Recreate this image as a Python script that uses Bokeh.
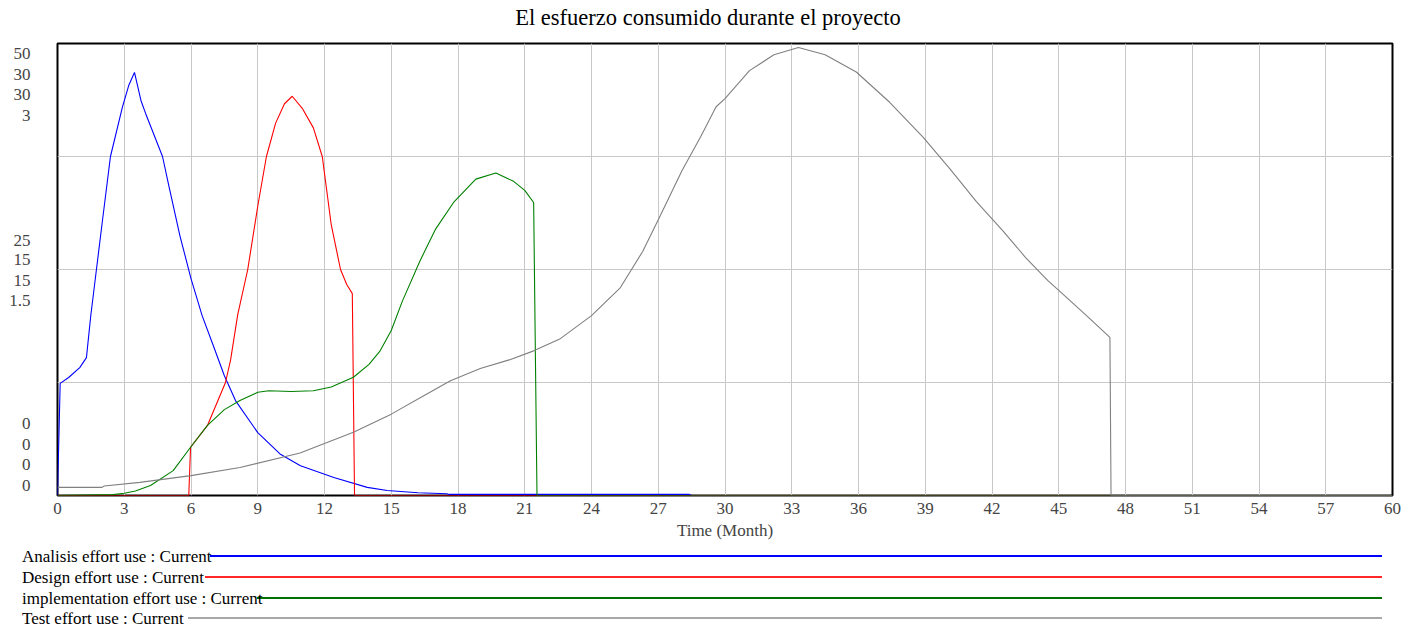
import numpy as np
from bokeh.plotting import figure
from bokeh.models import Range1d, FixedTicker, ColumnDataSource, Div
from bokeh.layouts import column
from bokeh.embed import file_html
from bokeh.resources import INLINE

# ---------------- data ----------------
title_text = "El esfuerzo consumido durante el proyecto"
x_label = "Time (Month)"
x_ticks = list(range(0, 61, 3))

series_names = ["Analisis effort use : Current", "Design effort use : Current",
                "implementation effort use : Current", "Test effort use : Current"]
series_colors = ["#0000FF", "#FF0000", "#008000", "#808080"]
legend_colors = ["rgb(0,0,255)", "rgb(255,40,40)", "rgb(0,112,0)", "rgb(168,168,168)"]
series_max = [50, 30, 30, 3]

axis_top = ["50", "30", "30", "3"]
axis_mid = ["25", "15", "15", "1.5"]
axis_bot = ["0", "0", "0", "0"]

analisis_t = [0, 0.12, 0.5, 1.0, 1.3, 1.5, 1.75, 2.0, 2.38, 2.92, 3.2, 3.46, 3.75, 4.0,
              4.72, 5.0, 5.5, 6.0, 6.5, 7.0, 7.5, 8.0, 9.0, 10.0, 10.92, 12.42, 13.92,
              14.82, 16.2, 17.5, 17.6, 28.4, 28.5, 60]
analisis_v = [0, 12.4, 13.05, 14.15, 15.25, 20.0, 25.0, 30.0, 37.5, 43.0, 45.35, 46.8, 43.7, 42.0,
              37.5, 34.3, 28.75, 24.0, 19.9, 16.6, 13.25, 10.5, 6.95, 4.6, 3.3, 2.0, 0.9,
              0.55, 0.3, 0.2, 0.12, 0.12, 0, 0]

design_t = [0, 5.9, 5.98, 6.74, 7.55, 7.78, 8.1, 8.55, 9.0, 9.39, 9.8, 10.2, 10.55, 11.0,
            11.5, 11.9, 12.3, 12.72, 13.0, 13.25, 13.35, 60]
design_v = [0, 0, 3.2, 4.65, 7.5, 9.0, 12.0, 15.0, 19.2, 22.5, 24.7, 26.0, 26.5, 25.7,
            24.4, 22.5, 18.0, 15.0, 14.0, 13.4, 0, 0]

implementation_t = [0, 2.5, 3.0, 3.5, 4.18, 5.2, 5.98, 6.74, 7.5, 8.2, 9.0, 9.5, 10.5, 11.5,
                    12.3, 13.3, 14.0, 14.5, 15.0, 15.5, 16.3, 17.0, 17.8, 18.8, 19.7, 20.5,
                    21.0, 21.4, 21.55, 60]
implementation_v = [0, 0.06, 0.15, 0.3, 0.66, 1.65, 3.2, 4.65, 5.7, 6.3, 6.85, 6.95, 6.9, 6.95,
                    7.2, 7.85, 8.7, 9.6, 10.95, 12.9, 15.6, 17.7, 19.45, 21.0, 21.4, 20.85,
                    20.25, 19.45, 0, 0]

test_t = [0, 2.0, 2.1, 3.7, 6.0, 8.2, 10.9, 13.3, 15.0, 16.5, 17.66, 19.0, 20.3, 21.4, 22.6,
          24.0, 25.3, 26.3, 27.1, 28.07, 28.9, 29.6, 30.0, 31.1, 32.2, 33.3, 34.5, 35.9,
          37.4, 38.9, 40.1, 41.3, 42.5, 43.5, 44.5, 45.0, 46.2, 47.3, 47.35, 60]
test_v = [0.054, 0.054, 0.063, 0.087, 0.132, 0.186, 0.282, 0.42, 0.54, 0.666, 0.762, 0.843,
          0.90, 0.96, 1.041, 1.194, 1.38, 1.62, 1.86, 2.157, 2.379, 2.58, 2.634, 2.82, 2.925,
          2.973, 2.925, 2.811, 2.61, 2.379, 2.169, 1.95, 1.755, 1.581, 1.428, 1.362, 1.2,
          1.05, 0, 0]

series_t = [analisis_t, design_t, implementation_t, test_t]
series_v = [analisis_v, design_v, implementation_v, test_v]

# ---------------- layout constants ----------------
FONT = "Liberation Serif"
W = 1416
H_TOTAL = 626
H_TITLE = 30
H1 = 513
H2 = H_TOTAL - H_TITLE - H1
B_LEFT, B_RIGHT = 57, 24

# ---------------- title strip ----------------
title_div = Div(
    text=(f'<div style="position:relative;width:{W}px;height:{H_TITLE}px;">'
          f'<div style="position:absolute;left:0;top:5px;width:{W}px;height:26px;'
          f'line-height:26px;text-align:center;white-space:nowrap;font-family:\'{FONT}\';'
          f'font-size:22.5px;color:black;">{title_text}</div></div>'),
    width=W, height=H_TITLE, margin=(0, 0, 0, 0))

# ---------------- main plot ----------------
p = figure(width=W, height=H1, output_backend="svg", toolbar_location=None,
           x_range=Range1d(0, 60), y_range=Range1d(0, 1),
           min_border_left=B_LEFT, min_border_right=B_RIGHT, min_border_top=13,
           min_border_bottom=48)

p.outline_line_color = "black"
p.outline_line_width = 2
p.background_fill_color = "white"
p.border_fill_color = "white"

p.xaxis.ticker = FixedTicker(ticks=x_ticks)
p.xaxis.axis_label = x_label
p.xaxis.axis_label_text_font = FONT
p.xaxis.axis_label_text_font_size = "17px"
p.xaxis.axis_label_text_font_style = "normal"
p.xaxis.axis_label_standoff = 4
p.xaxis.major_label_text_font = FONT
p.xaxis.major_label_text_font_size = "17px"
p.xaxis.major_label_standoff = 1
p.xaxis.major_tick_line_color = None
p.xaxis.minor_tick_line_color = None
p.xaxis.axis_line_color = None

# stacked scale labels on the left: one label per variable, stacked at three levels
label_pos = [[0.978, 0.931, 0.887, 0.841],
             [0.564, 0.522, 0.476, 0.431],
             [0.159, 0.113, 0.069, 0.022]]
label_txt = [axis_top, axis_mid, axis_bot]
ytick_vals, ytick_over = [], {}
for pos, txt in zip(label_pos, label_txt):
    for yy, tt in zip(pos, txt):
        ytick_vals.append(yy)
        ytick_over[yy] = tt
p.yaxis.ticker = FixedTicker(ticks=ytick_vals)
p.yaxis.major_label_overrides = ytick_over
p.yaxis.major_label_text_font = FONT
p.yaxis.major_label_text_font_size = "17px"
p.yaxis.major_label_standoff = 21
p.yaxis.major_tick_line_color = None
p.yaxis.minor_tick_line_color = None
p.yaxis.axis_line_color = None
p.ygrid.ticker = FixedTicker(ticks=[0.25, 0.5, 0.75])

p.xgrid.grid_line_color = "#C8C8C8"
p.ygrid.grid_line_color = "#C8C8C8"
p.xgrid.grid_line_width = 1
p.ygrid.grid_line_width = 1

for t, v, mx, c in zip(series_t, series_v, series_max, series_colors):
    src = ColumnDataSource(dict(t=t, y=np.array(v, dtype=float) / mx))
    p.line("t", "y", source=src, line_color=c, line_width=1.1)

# ---------------- legend strip (HTML, page-pixel positions) ----------------
row_y = [14, 35, 56, 76]          # row centres relative to the strip top
line_start = [210, 205, 257, 188]
line_end = 1382
parts = []
for name, yy, x0, col in zip(series_names, row_y, line_start, legend_colors):
    parts.append(
        f'<div style="position:absolute;left:{x0}px;top:{yy - 2}px;width:{line_end - x0}px;'
        f'height:2px;background-color:{col};"></div>')
    parts.append(
        f'<div style="position:absolute;left:22px;top:{yy - 10}px;height:20px;line-height:20px;'
        f'white-space:nowrap;font-family:\'{FONT}\';font-size:17px;color:black;">{name}</div>')
legend_html = (f'<div style="position:relative;width:{W}px;height:{H2}px;">'
               + "".join(parts) + "</div>")
legend = Div(text=legend_html, width=W, height=H2, margin=(0, 0, 0, 0))

layout = column(title_div, p, legend, spacing=0)
open("out.html", "w").write(file_html(layout, INLINE))
